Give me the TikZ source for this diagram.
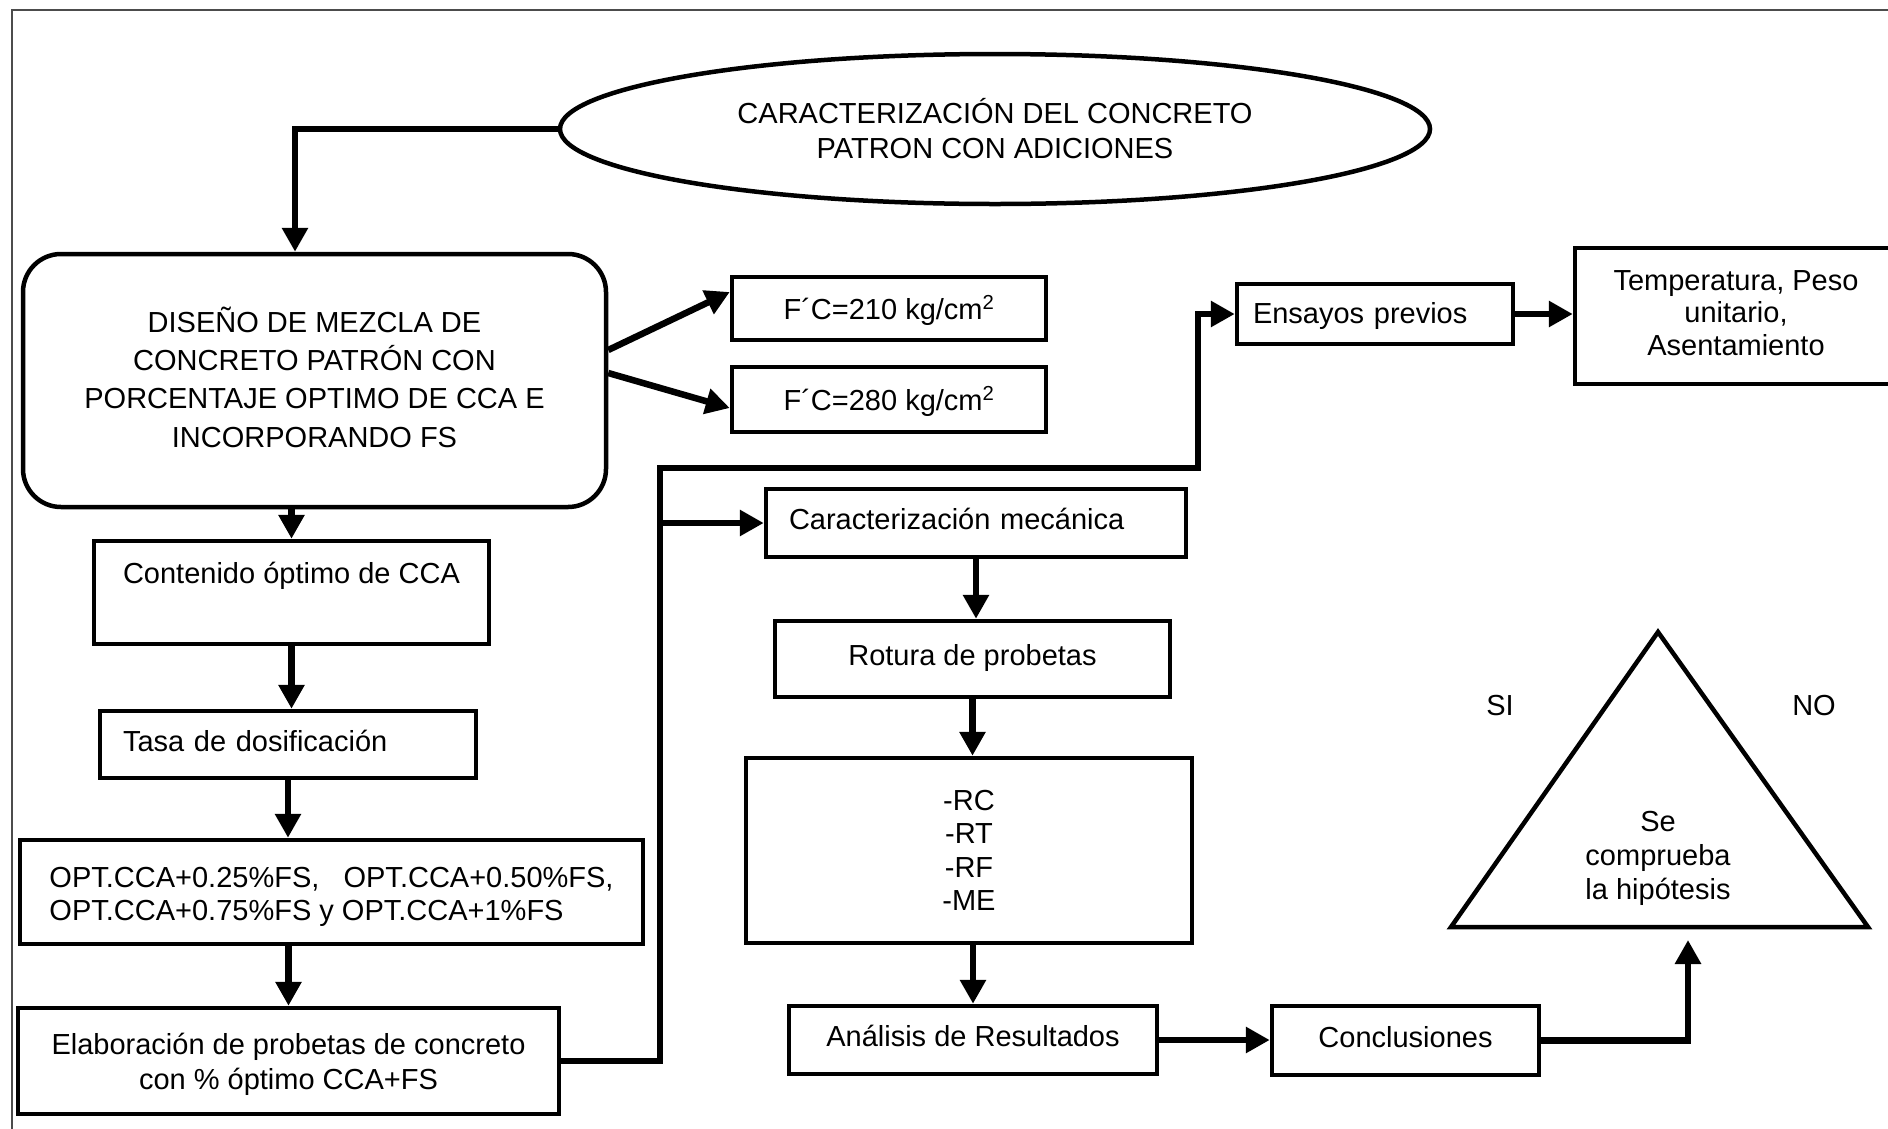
\documentclass[tikz,border=0pt]{standalone}
\usepackage{fontspec}
\setmainfont{Liberation Sans}
\usetikzlibrary{arrows.meta,shapes.geometric}

\begin{document}
\begin{tikzpicture}[x=1pt,y=-1pt,
  every node/.style={font=\fontsize{29}{34}\selectfont, inner sep=0pt},
  box/.style={draw, line width=4.5pt, rectangle, inner sep=0pt},
  oneline/.style={text height=21pt, text depth=8pt},
  conn/.style={line width=6.5pt, -{Triangle[length=24pt,width=25pt]}}]

% page area
\useasboundingbox (0,0) rectangle (1888,1128);
\fill[white] (0,0) rectangle (1888,1128);
\clip (0,0) rectangle (1888,1128);

% frame
\draw[line width=2pt, black!70] (12,1140) -- (12,10) -- (1900,10);

% title
\node[draw, ellipse, line width=4.5pt, minimum width=870pt, minimum height=150pt,
      align=center, font=\fontsize{29}{35}\selectfont] (ell) at (995,129)
      {CARACTERIZACIÓN DEL CONCRETO\\PATRON CON ADICIONES};

% mix design
\node[box, rounded corners=38pt, minimum width=583pt, minimum height=253pt,
      label={[align=center, yshift=3.5pt, font=\fontsize{29}{38.3}\selectfont]center:{DISEÑO DE MEZCLA DE\\CONCRETO PATRÓN CON\\PORCENTAJE OPTIMO DE CCA E\\INCORPORANDO FS}}]
      (dis) at (314.5,380.5) {};

\node[box, minimum width=314pt, minimum height=63pt, text height=21pt, text depth=0pt]
      (f210) at (889,308.5) {F´C=210 kg/cm\textsuperscript{2}};
\node[box, minimum width=314pt, minimum height=65pt, text height=21pt, text depth=0pt]
      (f280) at (889,399.5) {F´C=280 kg/cm\textsuperscript{2}};

% preliminary tests
\node[box, minimum width=276pt, minimum height=60pt, text width=244pt, inner xsep=16pt, align=left,
      text height=21pt, text depth=2pt]
      (ens) at (1375,314) {Ensayos previos};
\node[box, minimum width=330pt, minimum height=136pt,
      label={[align=center, xshift=-4pt, yshift=3pt, font=\fontsize{29}{32.5}\selectfont]center:{Temperatura, Peso\\unitario,\\Asentamiento}}]
      (temp) at (1740,316) {};

% left column
\node[box, minimum width=395pt, minimum height=103pt, text height=21pt, text depth=39pt]
      (cont) at (291.5,592.5) {Contenido óptimo de CCA};
\node[box, oneline, minimum width=376pt, minimum height=67pt, text width=330pt, inner xsep=23pt, align=left]
      (tasa) at (288,744.5) {Tasa de dosificación};
\node[box, minimum width=623pt, minimum height=104pt,
      label={[align=left, yshift=-5pt, font=\fontsize{29}{32.7}\selectfont]center:{OPT.CCA+0.25\%FS,\ \ \ OPT.CCA+0.50\%FS,\\OPT.CCA+0.75\%FS y OPT.CCA+1\%FS}}]
      (opt) at (331.5,892) {};
\node[box, minimum width=541pt, minimum height=106pt,
      label={[align=center, yshift=-3pt, font=\fontsize{29}{35}\selectfont]center:{Elaboración de probetas de concreto\\con \% óptimo CCA+FS}}]
      (elab) at (288.5,1061) {};

% mechanical characterisation
\node[box, oneline, minimum width=420pt, minimum height=68pt, text width=374pt, inner xsep=23pt, align=left]
      (cmec) at (976,523) {Caracterización mecánica};
\node[box, oneline, minimum width=395pt, minimum height=76pt] (rot) at (972.5,659) {Rotura de probetas};
\node[box, minimum width=446pt, minimum height=185pt, align=center, font=\fontsize{29}{33.5}\selectfont]
      (res) at (969,850.5) {-RC\\-RT\\-RF\\-ME};
\node[box, oneline, minimum width=368pt, minimum height=68pt] (ana) at (973,1040) {Análisis de Resultados};
\node[box, oneline, minimum width=267pt, minimum height=69pt] (conc) at (1405.5,1040.5) {Conclusiones};

% hypothesis check
\draw[line width=4.5pt] (1658,632) -- (1868,927) -- (1451,927) -- cycle;
\node[align=center] (hyp) at (1658,858) {Se\\comprueba\\la hipótesis};
\node (si) at (1500,706) {SI};
\node (no) at (1814,706) {NO};
\coordinate (tb) at (1688,940);

% junction points of the specimen line
\coordinate (j1) at (660,468);
\coordinate (j2) at (1198,468);

% connectors
\draw[conn] (ell.west) -| ([xshift=-19.5pt]dis.north);
\draw[conn] (cont.north |- dis.south) -- (cont.north);
\draw[conn] (cont.south) -- (cont.south |- tasa.north);
\draw[conn] (tasa.south) -- (tasa.south |- opt.north);
\draw[conn] (elab.north |- opt.south) -- (elab.north);
\draw[conn] ([yshift=30.5pt]dis.east) -- ([yshift=16.5pt]f210.west);
\draw[conn] ([yshift=7.5pt]dis.east) -- ([yshift=-8.5pt]f280.west);
\draw[conn] (elab.east) -| (j1) -- (j2) |- (ens.west);
\draw[conn] (j1 |- cmec.west) -- (cmec.west);
\draw[conn] (ens.east) -- (ens.east -| temp.west);
\draw[conn] (cmec.south) -- (cmec.south |- rot.north);
\draw[conn] (rot.south) -- (rot.south |- res.north);
\draw[conn] (ana.north |- res.south) -- (ana.north);
\draw[conn] (ana.east) -- (ana.east -| conc.west);
\draw[conn] (conc.east) -| (tb);

\end{tikzpicture}
\end{document}
